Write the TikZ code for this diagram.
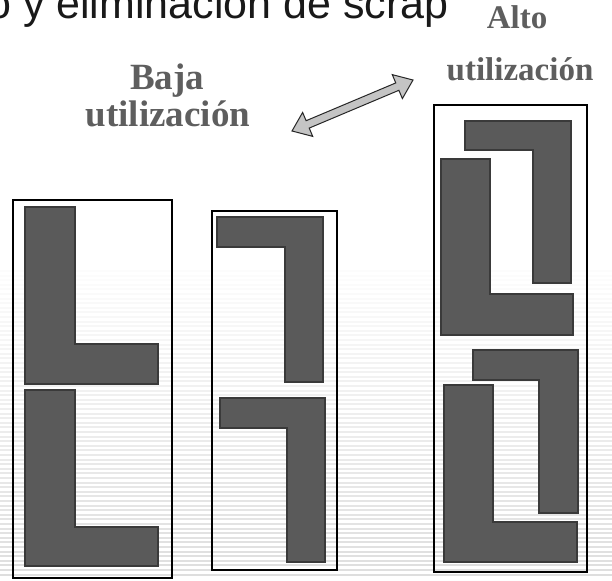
\documentclass[tikz,border=0pt]{standalone}
\usepackage{fontspec}
\newfontfamily\titlefont{Liberation Sans}
\newfontfamily\labelfont{Liberation Serif}
\definecolor{piecefill}{HTML}{5A5A5A}
\definecolor{pieceedge}{HTML}{3A3A3A}
\definecolor{labelgray}{HTML}{5E5E5E}
\definecolor{arrowfill}{HTML}{C4C4C4}

\begin{document}
\begin{tikzpicture}[x=1pt,y=-1pt,
    sheet/.style={draw=black,line width=1.8pt},
    piece/.style={fill=piecefill,draw=pieceedge,line width=1.5pt,line join=miter},
    caption/.style={text=labelgray,font=\labelfont\bfseries\fontsize{#1}{#1}\selectfont,anchor=base,inner sep=0pt}]
    \useasboundingbox (0,0) rectangle (612,580);
    \fill[white] (0,0) rectangle (612,580);
    \foreach \k in {0,...,66} {
        \pgfmathsetmacro{\ys}{270+4.6*\k}
        \pgfmathsetmacro{\op}{0.01+0.0018*\k}
        \fill[black,opacity=\op] (0,\ys) rectangle (612,\ys+2);
    }
    \node[anchor=base west,inner sep=0pt,text=black!90,font=\titlefont\fontsize{43}{46}\selectfont] (title) at (-13,19) {o y eliminación de scrap};
    \node[caption=37] (baja) at (167,90) {Baja};
    \node[caption=37] (bajautil) at (168,127) {utilización};
    \node[caption=33] (alto) at (517,29) {Alto};
    \node[caption=33] (altoutil) at (520,81) {utilización};
    \begin{scope}[shift={(292,131)},rotate=22.85]
        \pgfmathsetmacro{\len}{131.3}
        \draw[fill=arrowfill,draw=black!85,line width=1pt,line join=miter]
            (0,0) -- (17,13) -- (17,4) -- (\len-17,4) -- (\len-17,13) -- (\len,0)
            -- (\len-17,-13) -- (\len-17,-4) -- (17,-4) -- (17,-13) -- cycle;
    \end{scope}
    \draw[sheet] (13,200) rectangle (172,578);
    \draw[sheet] (212,211) rectangle (337,570);
    \draw[sheet] (434,105) rectangle (587,572);
    \foreach \xa/\ya/\xb/\yb/\xc/\yc in {25/207/75/344/158/384, 25/390/75/527/158/566,
            441/159/490/294/573/335, 444/385/493/522/577/562} {
        \draw[piece] (\xa,\ya) -- (\xb,\ya) -- (\xb,\yb) -- (\xc,\yb) -- (\xc,\yc) -- (\xa,\yc) -- cycle;
    }
    \foreach \xa/\ya/\yb/\xb/\xc/\yc in {217/217/247/285/323/382, 220/398/428/287/325/562,
            465/121/150/533/571/283, 473/350/380/539/578/513} {
        \draw[piece] (\xa,\ya) -- (\xc,\ya) -- (\xc,\yc) -- (\xb,\yc) -- (\xb,\yb) -- (\xa,\yb) -- cycle;
    }
\end{tikzpicture}
\end{document}
